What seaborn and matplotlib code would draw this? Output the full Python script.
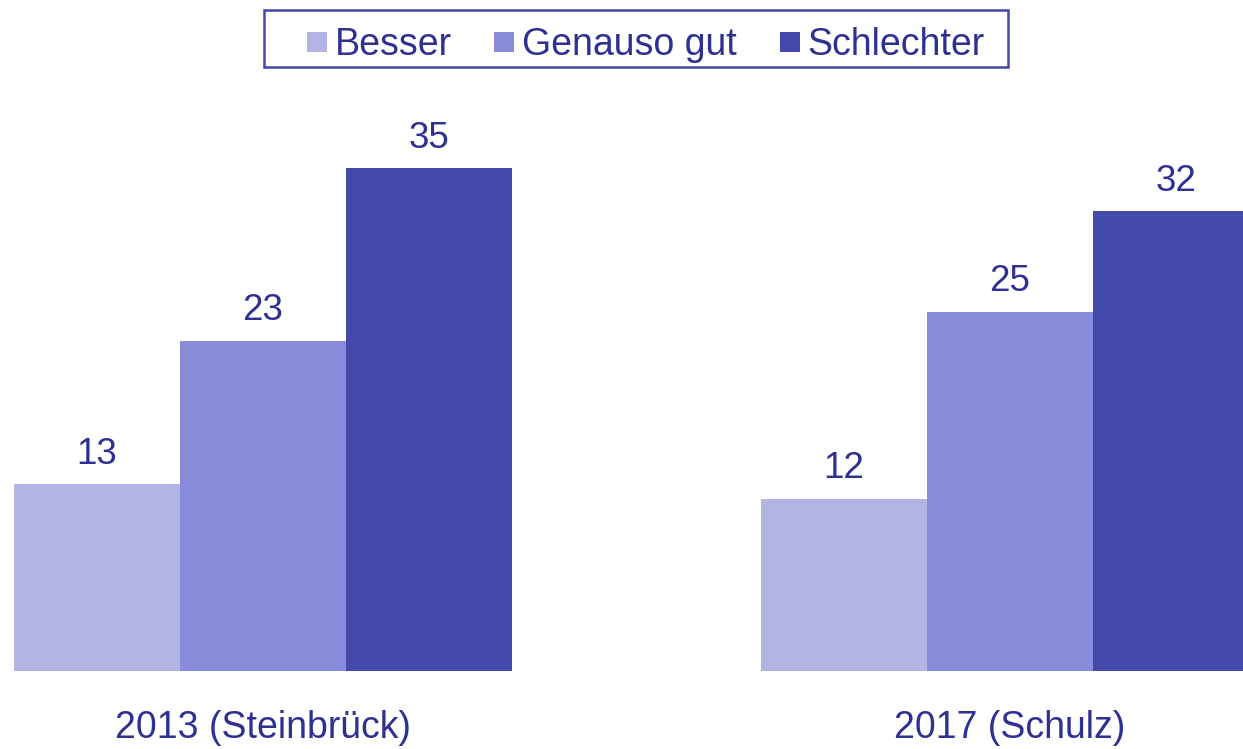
import pandas as pd
import seaborn as sns
import matplotlib.pyplot as plt
from matplotlib.lines import Line2D
from matplotlib.patches import Rectangle

# Chart data
groups = ["2013 (Steinbrück)", "2017 (Schulz)"]
answers = ["Besser", "Genauso gut", "Schlechter"]
values_2013 = [13, 23, 35]
values_2017 = [12, 25, 32]
colors = ["#b3b4e3", "#898cdb", "#444aab"]
text_color = "#2e3192"

rows = []
for g, vals in zip(groups, [values_2013, values_2017]):
    for a, v in zip(answers, vals):
        rows.append({"group": g, "answer": a, "value": v})
df = pd.DataFrame(rows)

sns.set_style("white")
plt.rcParams['font.family'] = ['Liberation Sans', 'DejaVu Sans']

W, H = 1243, 749
fig = plt.figure(figsize=(W / 100, H / 100), dpi=100)
ax = fig.add_axes([0, 78 / H, 1, 671 / H])

sns.barplot(data=df, x="group", y="value", hue="answer", palette=colors,
            width=0.667, saturation=1, linewidth=0, ax=ax, legend=False)

for c in ax.containers:
    ax.bar_label(c, fmt="%d", padding=9, fontsize=26.5, color=text_color)

ax.set_xlim(-0.352, 1.312)
ax.set_ylim(0, 46.7)
ax.set_xlabel("")
ax.set_ylabel("")
ax.set_yticks([])
ax.tick_params(axis="x", length=0, pad=28, labelsize=27, labelcolor=text_color)
sns.despine(ax=ax, left=True, bottom=True)

# legend with small square markers, frame drawn separately
handles = [Line2D([], [], marker="s", linestyle="none", markersize=13.7,
                  markerfacecolor=c, markeredgewidth=0) for c in colors]
leg = fig.legend(handles, answers, loc="upper left", ncol=3,
                 bbox_to_anchor=(275.5 / W, 1 - 27 / H), borderaxespad=0,
                 fontsize=27, frameon=False, handlelength=2.2,
                 handletextpad=-0.62, columnspacing=0.3, borderpad=0)
for t in leg.get_texts():
    t.set_color(text_color)
fig.patches.append(Rectangle((264 / W, 1 - 67 / H), 744 / W, 57 / H,
                             transform=fig.transFigure, fill=False,
                             edgecolor="#4347a8", linewidth=1.8))

fig.savefig("out.png", dpi=100)
